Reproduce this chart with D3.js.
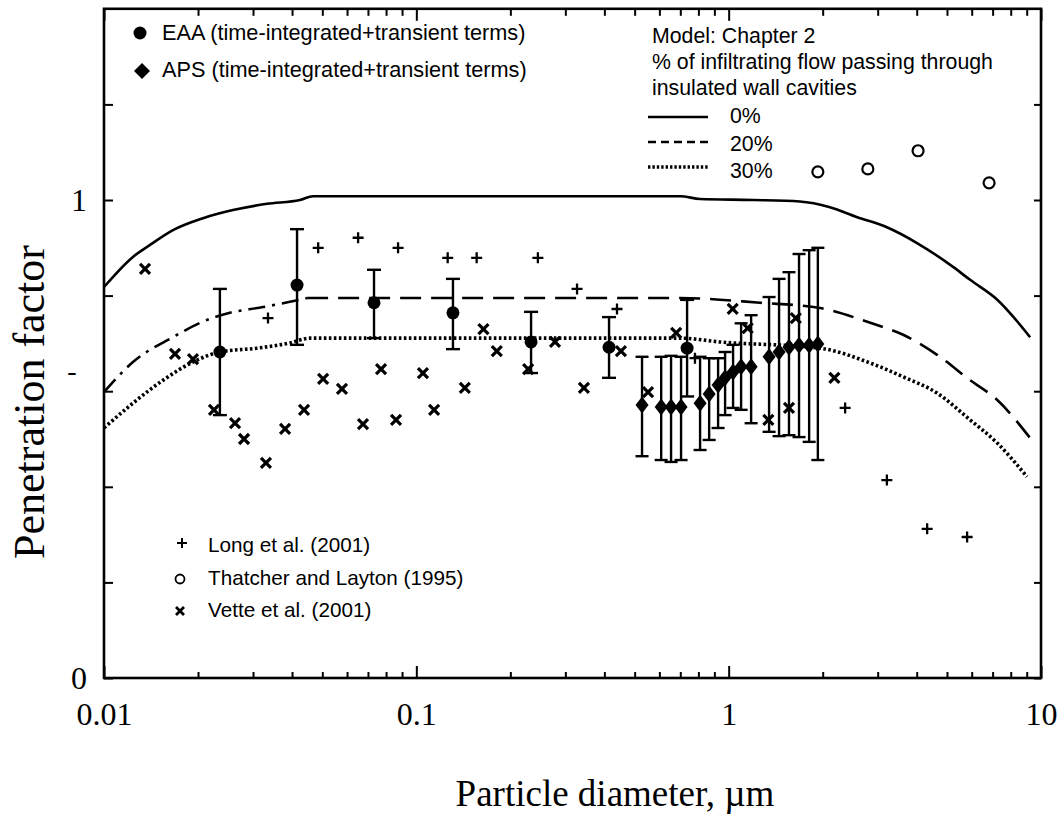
<!DOCTYPE html>
<html><head><meta charset="utf-8">
<script src="https://cdn.jsdelivr.net/npm/d3@7"></script>
<style>body{margin:0;background:#fff}svg{display:block}</style>
</head><body>
<svg id="chart" width="1061" height="819"></svg>
<script>
// ---------------- data ----------------
const xTickLabels = ["0.01", "0.1", "1", "10"];
const xMajor = [0.01, 0.1, 1, 10];
const yTicks = [0, 0.2, 0.4, 0.6, 0.8, 1.0, 1.2];
const yTickLabels = {"0": "0", "1": "1"};

// Model curves (Chapter 2): particle diameter (um) and penetration factor
const model0D = [0.01,0.01238,0.01404,0.01663,0.02075,0.02588,0.03326,0.0424,0.0467,0.7,0.81,1.2,1.69,2.11,2.58,3.21,4.01,5.23,5.93,7.23,9.23];
const model0P = [0.818,0.881,0.906,0.937,0.962,0.979,0.992,1.0,1.008,1.008,1.002,1.0,0.997,0.985,0.964,0.943,0.910,0.860,0.833,0.792,0.713];
const model20D = [0.01,0.01238,0.01663,0.0203,0.0253,0.0323,0.0394,0.0447,0.7,1.26,1.96,2.84,3.62,4.65,5.93,7.23,9.23];
const model20P = [0.598,0.661,0.713,0.743,0.764,0.776,0.787,0.795,0.795,0.785,0.774,0.743,0.718,0.676,0.623,0.582,0.502];
const model30D = [0.01,0.01238,0.01545,0.01927,0.0235,0.0309,0.0394,0.0457,0.7,0.938,1.96,2.84,3.62,4.65,5.93,7.23,9.02];
const model30P = [0.523,0.575,0.623,0.661,0.682,0.690,0.701,0.711,0.711,0.703,0.690,0.659,0.630,0.596,0.540,0.492,0.421];

// EAA measurements
const eaaD  = [0.0235,0.0415,0.0732,0.131,0.233,0.414,0.736];
const eaaP  = [0.682,0.822,0.785,0.764,0.703,0.692,0.690];
const eaaLo = [0.550,0.697,0.711,0.688,0.638,0.628,0.589];
const eaaHi = [0.814,0.939,0.854,0.835,0.766,0.755,0.791];

// APS measurements
const apsD  = [0.528,0.608,0.654,0.704,0.810,0.866,0.925,0.974,1.033,1.096,1.18,1.347,1.45,1.56,1.68,1.81,1.93];
const apsP  = [0.571,0.567,0.567,0.567,0.575,0.594,0.613,0.628,0.640,0.651,0.651,0.672,0.682,0.692,0.696,0.696,0.699];
const apsLo = [0.464,0.456,0.452,0.456,0.477,0.498,0.523,0.550,0.565,0.561,0.533,0.515,0.506,0.508,0.504,0.494,0.456];
const apsHi = [0.672,0.672,0.674,0.672,0.672,0.669,0.669,0.682,0.697,0.742,0.759,0.797,0.835,0.849,0.887,0.895,0.900];

// Long et al. (2001)
const longD = [0.0235,0.0335,0.0485,0.0651,0.0874,0.126,0.156,0.245,0.327,0.439,0.78,2.36,3.21,4.32,5.80];
const longP = [0.682,0.753,0.900,0.921,0.900,0.879,0.879,0.879,0.814,0.772,0.669,0.565,0.414,0.312,0.295];

// Thatcher and Layton (1995)
const thatD = [1.93,2.79,4.04,6.82];
const thatP = [1.059,1.065,1.103,1.036];

// Vette et al. (2001)
const vetteD = [0.01353,0.01688,0.01927,0.0225,0.02627,0.02808,0.0330,0.0380,0.0437,0.0503,0.0578,0.0675,0.0771,0.0861,0.105,0.114,0.143,0.164,0.181,0.228,0.278,0.344,0.452,0.552,0.679,1.03,1.15,1.34,1.56,1.64,2.18];
const vetteP = [0.856,0.678,0.667,0.561,0.533,0.500,0.450,0.521,0.561,0.626,0.605,0.531,0.646,0.540,0.638,0.561,0.607,0.730,0.684,0.646,0.703,0.607,0.684,0.598,0.722,0.772,0.732,0.540,0.565,0.753,0.628];

const legendTopLabels = ["EAA (time-integrated+transient terms)", "APS (time-integrated+transient terms)"];
const modelTitleLines = ["Model: Chapter 2", "% of infiltrating flow passing through", "insulated wall cavities"];
const modelLegendLabels = ["0%", "20%", "30%"];
const refLegendLabels = ["Long et al. (2001)", "Thatcher and Layton (1995)", "Vette et al. (2001)"];

// ---------------- drawing ----------------
const svg = d3.select("#chart");
const L = 104, R = 1041, T = 8.8, B = 678;
const x = d3.scaleLog().domain([0.01, 10]).range([L, R]);
const y = d3.scaleLinear().domain([0, 1.4]).range([B, T]);
const SANS = "'Liberation Sans', Arial, Helvetica, sans-serif";
const SERIF = "'Liberation Serif', 'Times New Roman', serif";

const xMinor = x.ticks().filter(d => !xMajor.some(m => Math.abs(m - d) / m < 1e-6));

function styleAxis(g) {
  g.select(".domain").remove();
  g.selectAll(".tick line").attr("stroke", "#000").attr("stroke-width", 2);
}

// bottom axis
svg.append("g").attr("transform", `translate(0,${B})`)
  .call(d3.axisBottom(x).tickValues(xMinor).tickSize(-6).tickFormat(""))
  .call(styleAxis);
svg.append("g").attr("transform", `translate(0,${B})`)
  .call(d3.axisBottom(x).tickValues(xMajor).tickSize(-12).tickPadding(24)
    .tickFormat((d, i) => xTickLabels[i]))
  .call(styleAxis)
  .call(g => g.selectAll("text").attr("font-family", SERIF).attr("font-size", 32).attr("fill", "#000"));
// top axis
svg.append("g").attr("transform", `translate(0,${T})`)
  .call(d3.axisTop(x).tickValues(xMinor).tickSize(-7).tickFormat(""))
  .call(styleAxis);
svg.append("g").attr("transform", `translate(0,${T})`)
  .call(d3.axisTop(x).tickValues(xMajor).tickSize(-12).tickFormat(""))
  .call(styleAxis);
// left axis
svg.append("g").attr("transform", `translate(${L},0)`)
  .call(d3.axisLeft(y).tickValues(yTicks).tickSize(-9).tickPadding(17)
    .tickFormat(d => yTickLabels[String(Math.round(d * 10) / 10)] || ""))
  .call(styleAxis)
  .call(g => g.selectAll("text").attr("font-family", SERIF).attr("font-size", 32).attr("fill", "#000"));
// right axis
svg.append("g").attr("transform", `translate(${R},0)`)
  .call(d3.axisRight(y).tickValues(yTicks).tickSize(-7).tickFormat(""))
  .call(styleAxis);

// frame
svg.append("rect").attr("x", L).attr("y", T).attr("width", R - L).attr("height", B - T)
  .attr("fill", "none").attr("stroke", "#000").attr("stroke-width", 2.6);

// stray mark beside the y axis
svg.append("text").attr("x", 72).attr("y", 380).attr("text-anchor", "middle")
  .attr("font-family", SERIF).attr("font-size", 28).text("-");

// axis titles
svg.append("text").attr("x", 615).attr("y", 806).attr("text-anchor", "middle")
  .attr("font-family", SERIF).attr("font-size", 37).text("Particle diameter, \u00b5m");
svg.append("text").attr("transform", "translate(44,402) rotate(-90)").attr("text-anchor", "middle")
  .attr("font-family", SERIF).attr("font-size", 44).text("Penetration factor");

// model curves
const line = d3.line().x(d => x(d[0])).y(d => y(d[1])).curve(d3.curveMonotoneX);
const zip = (a, b) => a.map((v, i) => [v, b[i]]);
svg.append("path").datum(zip(model0D, model0P)).attr("d", line)
  .attr("fill", "none").attr("stroke", "#000").attr("stroke-width", 2.6);
const m20 = zip(model20D, model20P);
svg.append("path").datum(m20.slice(0, 8)).attr("d", line)
  .attr("fill", "none").attr("stroke", "#000").attr("stroke-width", 2.6).attr("stroke-dasharray", "17,7,3,7");
svg.append("path").datum(m20.slice(7)).attr("d", line)
  .attr("fill", "none").attr("stroke", "#000").attr("stroke-width", 2.6).attr("stroke-dasharray", "21,10");
svg.append("path").datum(zip(model30D, model30P)).attr("d", line)
  .attr("fill", "none").attr("stroke", "#000").attr("stroke-width", 3.6).attr("stroke-dasharray", "2.6,2.4");

// error bars
function errorBars(D, Lo, Hi, cap) {
  const g = svg.append("g").attr("stroke", "#000").attr("stroke-width", 2.4);
  D.forEach((d, i) => {
    const cx = x(d);
    g.append("line").attr("x1", cx).attr("x2", cx).attr("y1", y(Lo[i])).attr("y2", y(Hi[i]));
    g.append("line").attr("x1", cx - cap).attr("x2", cx + cap).attr("y1", y(Lo[i])).attr("y2", y(Lo[i]));
    g.append("line").attr("x1", cx - cap).attr("x2", cx + cap).attr("y1", y(Hi[i])).attr("y2", y(Hi[i]));
  });
}
errorBars(eaaD, eaaLo, eaaHi, 7);
errorBars(apsD, apsLo, apsHi, 6.5);

// markers
const diamond = (hw, hh) => `M0,${-hh}L${hw},0L0,${hh}L${-hw},0Z`;
const crossX = s => `M${-s},${-s}L${s},${s}M${s},${-s}L${-s},${s}`;
const plus = s => `M${-s},0L${s},0M0,${-s}L0,${s}`;

svg.append("g").selectAll("path").data(zip(vetteD, vetteP)).join("path")
  .attr("transform", d => `translate(${x(d[0])},${y(d[1])})`)
  .attr("d", crossX(5)).attr("stroke", "#000").attr("stroke-width", 3.2).attr("fill", "none");
svg.append("g").selectAll("path").data(zip(longD, longP)).join("path")
  .attr("transform", d => `translate(${x(d[0])},${y(d[1])})`)
  .attr("d", plus(5.5)).attr("stroke", "#000").attr("stroke-width", 2.3).attr("fill", "none");
svg.append("g").selectAll("circle").data(zip(thatD, thatP)).join("circle")
  .attr("cx", d => x(d[0])).attr("cy", d => y(d[1])).attr("r", 5.5)
  .attr("fill", "none").attr("stroke", "#000").attr("stroke-width", 2.2);
svg.append("g").selectAll("circle").data(zip(eaaD, eaaP)).join("circle")
  .attr("cx", d => x(d[0])).attr("cy", d => y(d[1])).attr("r", 6.5).attr("fill", "#000");
svg.append("g").selectAll("path").data(zip(apsD, apsP)).join("path")
  .attr("transform", d => `translate(${x(d[0])},${y(d[1])})`)
  .attr("d", diamond(6.5, 8.5)).attr("fill", "#000");

// top-left legend
const tl = svg.append("g").attr("font-family", SANS).attr("font-size", 21.7);
tl.append("circle").attr("cx", 140).attr("cy", 33).attr("r", 6.5).attr("fill", "#000");
tl.append("path").attr("transform", "translate(142,71)").attr("d", diamond(8, 8)).attr("fill", "#000");
legendTopLabels.forEach((t, i) => tl.append("text").attr("x", 162).attr("y", 40 + i * 37).text(t));

// model legend
const ml = svg.append("g").attr("font-family", SANS).attr("font-size", 21.3);
modelTitleLines.forEach((t, i) => ml.append("text").attr("x", 652).attr("y", 43 + i * 26).text(t));
const dashes = [null, "8,5", "2.4,2"];
const widths = [2.4, 2.4, 3.4];
const sampleY = [117, 142, 167];
modelLegendLabels.forEach((t, i) => {
  ml.append("line").attr("x1", 648).attr("x2", 708).attr("y1", sampleY[i]).attr("y2", sampleY[i])
    .attr("stroke", "#000").attr("stroke-width", widths[i]).attr("stroke-dasharray", dashes[i]);
  ml.append("text").attr("x", 730).attr("y", 123 + i * 27.5).text(t);
});

// reference legend
const rl = svg.append("g").attr("font-family", SANS).attr("font-size", 20.7);
rl.append("path").attr("transform", "translate(182,543)").attr("d", plus(5)).attr("stroke", "#000").attr("stroke-width", 2);
rl.append("circle").attr("cx", 180).attr("cy", 579).attr("r", 4.5).attr("fill", "none").attr("stroke", "#000").attr("stroke-width", 1.8);
rl.append("path").attr("transform", "translate(180,611)").attr("d", crossX(4)).attr("stroke", "#000").attr("stroke-width", 2.8);
refLegendLabels.forEach((t, i) => rl.append("text").attr("x", 208).attr("y", 552 + i * 32.5).text(t));
</script>
</body></html>
